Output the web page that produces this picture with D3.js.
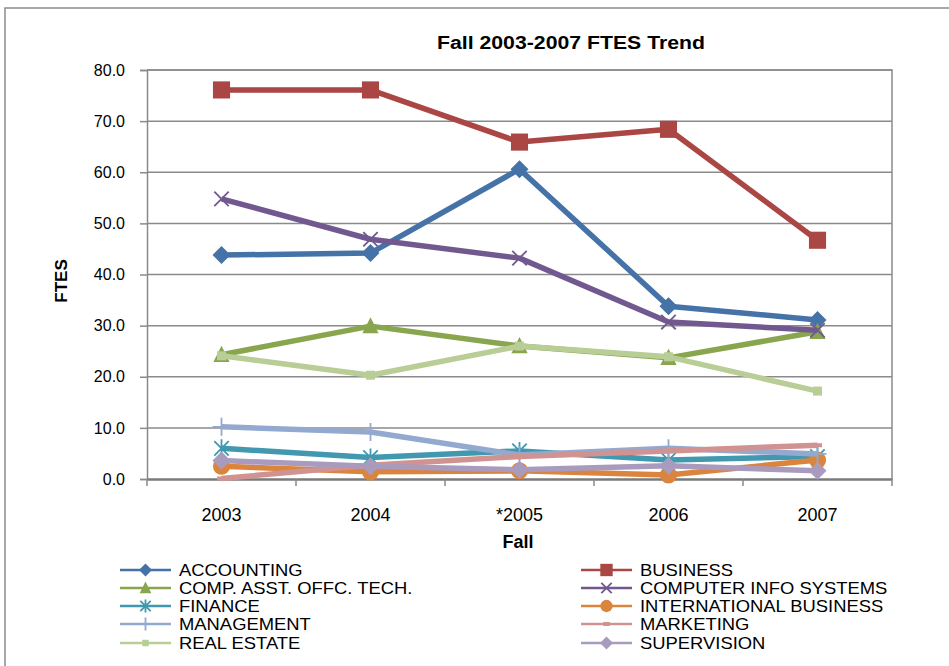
<!DOCTYPE html>
<html>
<head>
<meta charset="utf-8">
<script src="https://cdn.jsdelivr.net/npm/d3@7"></script>
<style>
  body { margin: 0; background: #fff; }
  text { font-family: "Liberation Sans", Arial, sans-serif; fill: #000; }
</style>
</head>
<body>
<svg id="chart" width="949" height="666"></svg>
<script>
const width = 949, height = 666;
const margin = { left: 147, right: 892, top: 70, bottom: 479 };

const years = ["2003", "2004", "*2005", "2006", "2007"];
const yTicks = [0, 10, 20, 30, 40, 50, 60, 70, 80];

const names = ["ACCOUNTING", "BUSINESS", "COMP. ASST. OFFC. TECH.", "COMPUTER INFO SYSTEMS", "FINANCE",
  "INTERNATIONAL BUSINESS", "MANAGEMENT", "MARKETING", "REAL ESTATE", "SUPERVISION"];
const colors = ["#4572A7", "#AA4643", "#89A54E", "#71588F", "#4198AF",
  "#DB843D", "#93A9CF", "#D19392", "#B9CD96", "#A99BBD"];
const markers = ["diamond", "square", "triangle", "x", "star", "circle", "plus", "dash", "smallsquare", "diamond"];

const accounting = [43.8, 44.2, 60.6, 33.8, 31.1];
const business = [76.1, 76.1, 65.9, 68.4, 46.7];
const compAsst = [24.3, 29.9, 26.0, 23.7, 28.8];
const cis = [54.8, 46.9, 43.2, 30.7, 29.1];
const finance = [6.0, 4.2, 5.5, 3.7, 4.4];
const intlBusiness = [2.5, 1.4, 1.6, 0.8, 3.7];
const management = [10.2, 9.2, 4.7, 6.0, 4.9];
const marketing = [0.1, 2.7, 4.4, 5.5, 6.6];
const realEstate = [24.1, 20.3, 26.0, 23.9, 17.2];
const supervision = [3.6, 2.5, 1.8, 2.6, 1.6];
const values = [accounting, business, compAsst, cis, finance, intlBusiness, management, marketing, realEstate, supervision];

const svg = d3.select("#chart");

// outer frame
svg.append("rect")
  .attr("x", 5).attr("y", 8)
  .attr("width", width).attr("height", height)
  .attr("fill", "#fff").attr("stroke", "#8c8c8c").attr("stroke-width", 1.5);

const x = d3.scaleBand().domain(years).range([margin.left, margin.right]);
const y = d3.scaleLinear().domain([0, 80]).range([margin.bottom, margin.top]);
const cx = d => x(d) + x.bandwidth() / 2;

// gridlines
svg.append("g").selectAll("line")
  .data(yTicks.filter(t => t > 0))
  .enter().append("line")
  .attr("x1", margin.left).attr("x2", margin.right)
  .attr("y1", d => y(d)).attr("y2", d => y(d))
  .attr("stroke", "#8a8a8a").attr("stroke-width", 1.5);

// plot frame top/right
svg.append("path")
  .attr("d", `M${margin.left},${margin.top}H${margin.right}V${margin.bottom}`)
  .attr("fill", "none").attr("stroke", "#8a8a8a").attr("stroke-width", 1.5);

// y axis
const yAxis = svg.append("g")
  .attr("transform", `translate(${margin.left},0)`)
  .call(d3.axisLeft(y).tickValues(yTicks).tickFormat(d3.format(".1f")).tickSize(7).tickPadding(15));
yAxis.select(".domain").attr("stroke", "#8a8a8a").attr("stroke-width", 1.5);
yAxis.selectAll(".tick line").attr("stroke", "#8a8a8a").attr("stroke-width", 1.5);
yAxis.selectAll("text").attr("font-size", 16).attr("font-family", "Liberation Sans, Arial").attr("fill", "#000");

// x axis
const xAxis = svg.append("g")
  .attr("transform", `translate(0,${margin.bottom})`)
  .call(d3.axisBottom(x).tickSize(0).tickPadding(29));
xAxis.select(".domain").attr("stroke", "#7a7a7a").attr("stroke-width", 2.5);
xAxis.selectAll("text").attr("font-size", 18).attr("font-family", "Liberation Sans, Arial").attr("fill", "#000");
xAxis.selectAll(".bound")
  .data(d3.range(years.length + 1))
  .enter().append("line")
  .attr("class", "bound")
  .attr("x1", i => margin.left + i * x.bandwidth())
  .attr("x2", i => margin.left + i * x.bandwidth())
  .attr("y1", 0).attr("y2", 7)
  .attr("stroke", "#8a8a8a").attr("stroke-width", 1.5);

// titles
svg.append("text")
  .attr("x", 571).attr("y", 49)
  .attr("text-anchor", "middle")
  .attr("font-size", 18).attr("font-weight", "bold")
  .attr("textLength", 268).attr("lengthAdjust", "spacingAndGlyphs")
  .text("Fall 2003-2007 FTES Trend");

svg.append("text")
  .attr("transform", "rotate(-90)")
  .attr("x", -281).attr("y", 67)
  .attr("text-anchor", "middle")
  .attr("font-size", 17).attr("font-weight", "bold")
  .text("FTES");

svg.append("text")
  .attr("x", 518).attr("y", 548)
  .attr("text-anchor", "middle")
  .attr("font-size", 18).attr("font-weight", "bold")
  .text("Fall");

function drawMarker(g, type, color, px, py, s) {
  const h = s / 2;
  if (type === "diamond") {
    g.append("path").attr("d", `M${px},${py - h}L${px + h},${py}L${px},${py + h}L${px - h},${py}Z`).attr("fill", color);
  } else if (type === "square") {
    g.append("rect").attr("x", px - h * 0.95).attr("y", py - h * 0.95).attr("width", h * 1.9).attr("height", h * 1.9).attr("fill", color);
  } else if (type === "smallsquare") {
    g.append("rect").attr("x", px - h * 0.5).attr("y", py - h * 0.5).attr("width", h).attr("height", h).attr("fill", color);
  } else if (type === "triangle") {
    g.append("path").attr("d", `M${px},${py - h}L${px + h * 0.9},${py + h * 0.8}L${px - h * 0.9},${py + h * 0.8}Z`).attr("fill", color);
  } else if (type === "circle") {
    g.append("circle").attr("cx", px).attr("cy", py).attr("r", h * 0.95).attr("fill", color);
  } else if (type === "x" || type === "star") {
    const k = h * 0.8;
    g.append("path").attr("d", `M${px - k},${py - k}L${px + k},${py + k}M${px - k},${py + k}L${px + k},${py - k}` +
      (type === "star" ? `M${px},${py - h}V${py + h}` : ""))
      .attr("stroke", color).attr("stroke-width", 1.8).attr("fill", "none");
  } else if (type === "plus") {
    g.append("path").attr("d", `M${px},${py - h}V${py + h}M${px - h},${py}H${px + h}`)
      .attr("stroke", color).attr("stroke-width", 1.8).attr("fill", "none");
  } else if (type === "dash") {
    g.append("rect").attr("x", px - h * 0.5).attr("y", py - 2).attr("width", h).attr("height", 4).attr("fill", color);
  }
}

const line = d3.line().x((d, i) => cx(years[i])).y(d => y(d));

const plot = svg.append("g");
values.forEach((vals, si) => {
  const g = plot.append("g");
  g.append("path")
    .datum(vals)
    .attr("d", line)
    .attr("fill", "none")
    .attr("stroke", colors[si])
    .attr("stroke-width", 5.5)
    .attr("stroke-linejoin", "round");
  vals.forEach((v, i) => drawMarker(g, markers[si], colors[si], cx(years[i]), y(v), 18));
});

// legend
const legendRows = [570, 588, 606, 624, 643];
const legend = svg.append("g");
names.forEach((name, i) => {
  const col = i % 2, row = Math.floor(i / 2);
  const lx = col === 0 ? 120 : 581;
  const ly = legendRows[row];
  const g = legend.append("g");
  g.append("line")
    .attr("x1", lx).attr("x2", lx + 51)
    .attr("y1", ly).attr("y2", ly)
    .attr("stroke", colors[i]).attr("stroke-width", 2.5);
  drawMarker(g, markers[i], colors[i], lx + 25.5, ly, 13);
  g.append("text")
    .attr("transform", `translate(${col === 0 ? 179 : 640},${ly + 6}) scale(1.15,1)`)
    .attr("font-size", 16)
    .text(name);
});
</script>
</body>
</html>
